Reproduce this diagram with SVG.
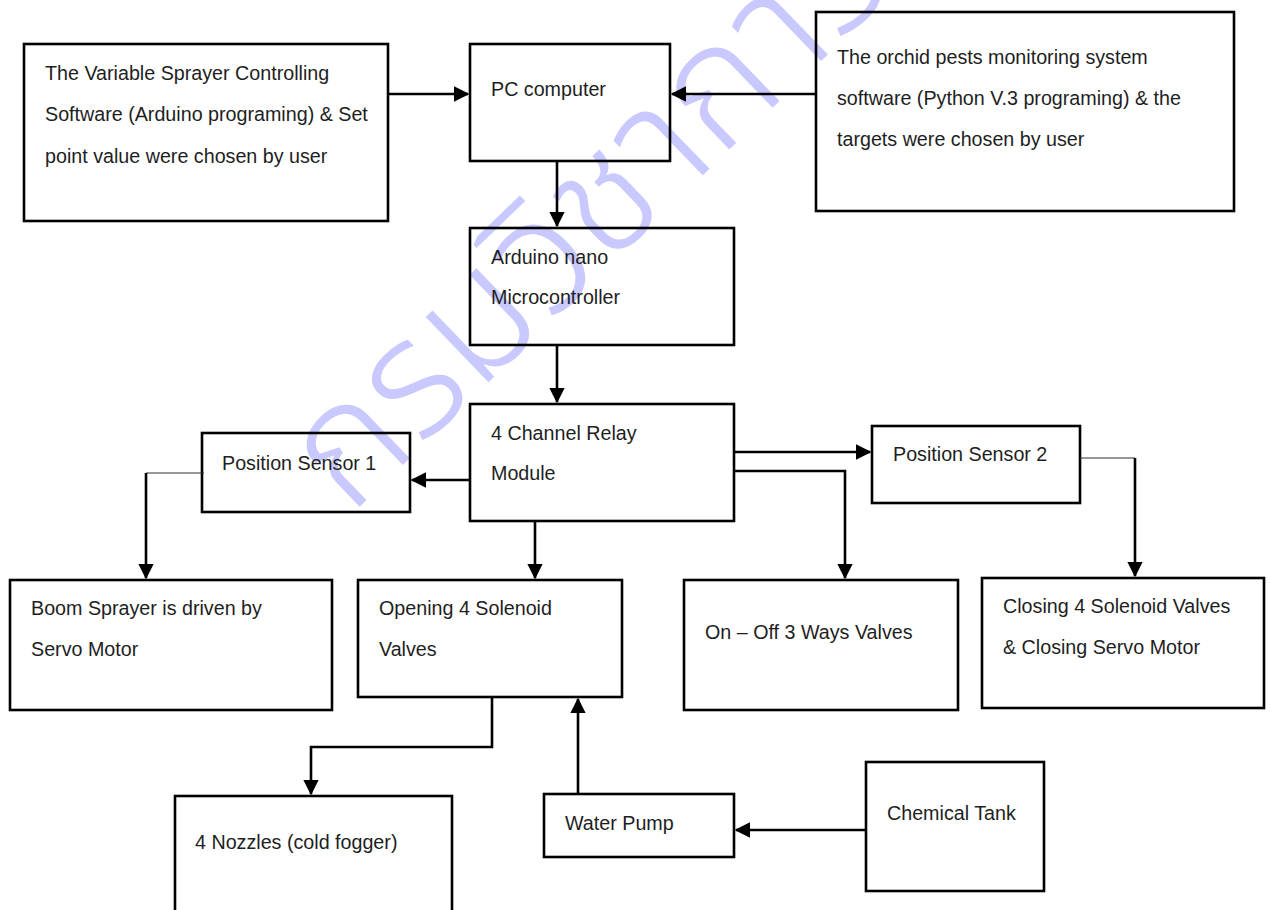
<svg xmlns="http://www.w3.org/2000/svg" width="1270" height="910" viewBox="0 0 1270 910">
<style>
.box{fill:none;stroke:#000;stroke-width:2.6}
.t{font-family:"Liberation Sans","DejaVu Sans",sans-serif;font-size:19.7px;fill:#1e1e1e}
.c{fill:none;stroke:#000;stroke-width:2.6}
.thin{fill:none;stroke:#333;stroke-width:1.2}
.wm{font-family:"Noto Sans Thai","Noto Sans","DejaVu Sans",sans-serif;font-size:165px;font-weight:340;fill:#c9c9ff}
</style>
<defs>
<marker id="ah" markerWidth="6" markerHeight="6" refX="5.5" refY="3" orient="auto" markerUnits="strokeWidth">
<path d="M0,0 L6,3 L0,6 Z" fill="#000"/>
</marker>
</defs>
<rect width="1270" height="910" fill="#fff"/>
<g id="watermark">
<text class="wm" transform="translate(350,516) rotate(-44)">กรมวิชาการเกษตร</text>
</g>
<g id="n-sprayer-sw"><rect class="box" x="24" y="44" width="364" height="177"/>
<text class="t" x="45" y="80">The Variable Sprayer Controlling</text>
<text class="t" x="45" y="121">Software (Arduino programing) &amp; Set</text>
<text class="t" x="45" y="163">point value were chosen by user</text></g>
<g id="n-pc"><rect class="box" x="470" y="44" width="200" height="117"/>
<text class="t" x="491" y="96">PC computer</text></g>
<g id="n-orchid-sw"><rect class="box" x="816" y="12" width="418" height="199"/>
<text class="t" x="837" y="64">The orchid pests monitoring system</text>
<text class="t" x="837" y="105">software (Python V.3 programing) &amp; the</text>
<text class="t" x="837" y="146">targets were chosen by user</text></g>
<g id="n-arduino"><rect class="box" x="470" y="228" width="264" height="117"/>
<text class="t" x="491" y="264">Arduino nano</text>
<text class="t" x="491" y="304">Microcontroller</text></g>
<g id="n-relay"><rect class="box" x="470" y="404" width="264" height="117"/>
<text class="t" x="491" y="440">4 Channel Relay</text>
<text class="t" x="491" y="480">Module</text></g>
<g id="n-ps1"><rect class="box" x="202" y="433" width="208" height="79"/>
<text class="t" x="222" y="470">Position Sensor 1</text></g>
<g id="n-ps2"><rect class="box" x="872" y="426" width="208" height="77"/>
<text class="t" x="893" y="461">Position Sensor 2</text></g>
<g id="n-boom"><rect class="box" x="10" y="580" width="322" height="130"/>
<text class="t" x="31" y="615">Boom Sprayer is driven by</text>
<text class="t" x="31" y="656">Servo Motor</text></g>
<g id="n-opening"><rect class="box" x="358" y="580" width="264" height="117"/>
<text class="t" x="379" y="615">Opening 4 Solenoid</text>
<text class="t" x="379" y="656">Valves</text></g>
<g id="n-onoff"><rect class="box" x="684" y="580" width="274" height="130"/>
<text class="t" x="705" y="639">On – Off 3 Ways Valves</text></g>
<g id="n-closing"><rect class="box" x="982" y="578" width="282" height="130"/>
<text class="t" x="1003" y="613">Closing 4 Solenoid Valves</text>
<text class="t" x="1003" y="654">&amp; Closing Servo Motor</text></g>
<g id="n-nozzles"><rect class="box" x="175" y="796" width="277" height="130"/>
<text class="t" x="195" y="849">4 Nozzles (cold fogger)</text></g>
<g id="n-pump"><rect class="box" x="544" y="794" width="190" height="63"/>
<text class="t" x="565" y="830">Water Pump</text></g>
<g id="n-tank"><rect class="box" x="866" y="762" width="178" height="129"/>
<text class="t" x="887" y="820">Chemical Tank</text></g>
<g id="connectors">
<path class="c" d="M388,94 H468" marker-end="url(#ah)"/>
<path class="c" d="M816,94 H672" marker-end="url(#ah)"/>
<path class="c" d="M557,161 V226" marker-end="url(#ah)"/>
<path class="c" d="M557,345 V402" marker-end="url(#ah)"/>
<path class="c" d="M470,480 H412" marker-end="url(#ah)"/>
<path class="thin" d="M204,473 H146"/>
<path class="c" d="M146,473 V578" marker-end="url(#ah)"/>
<path class="c" d="M535,521 V578" marker-end="url(#ah)"/>
<path class="c" d="M734,452 H870" marker-end="url(#ah)"/>
<path class="c" d="M734,471 H845 V578" marker-end="url(#ah)"/>
<path class="thin" d="M1080,458 H1135"/>
<path class="c" d="M1135,458 V576" marker-end="url(#ah)"/>
<path class="c" d="M492,697 V747 H311 V794" marker-end="url(#ah)"/>
<path class="c" d="M578,794 V699" marker-end="url(#ah)"/>
<path class="c" d="M866,830 H736" marker-end="url(#ah)"/>
</g>
</svg>
